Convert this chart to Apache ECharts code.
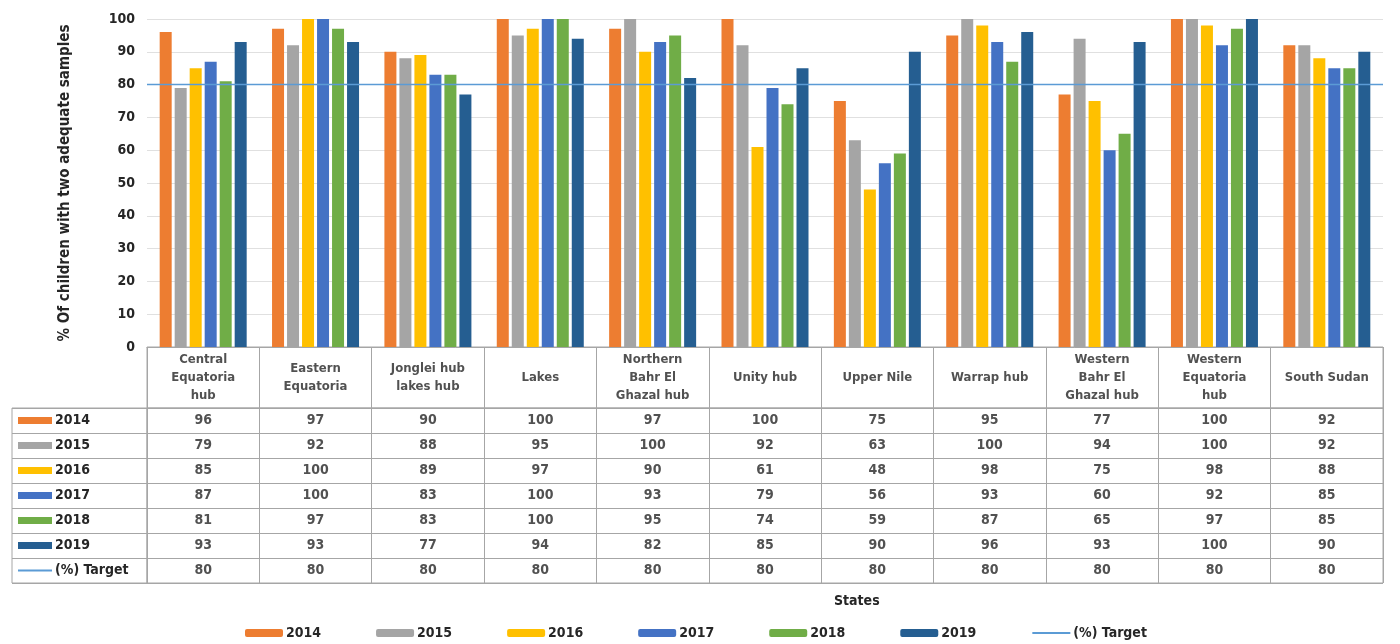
<!DOCTYPE html>
<html>
<head>
<meta charset="utf-8">
<script src="https://cdn.jsdelivr.net/npm/echarts@6/dist/echarts.min.js"></script>
<style>html,body{margin:0;padding:0;background:#fff}#c{width:1400px;height:644px}</style>
</head>
<body>
<div id="c"></div>
<script>
const categories = ['Central\nEquatoria\nhub','Eastern\nEquatoria','Jonglei hub\nlakes hub','Lakes','Northern\nBahr El\nGhazal hub','Unity hub','Upper Nile','Warrap hub','Western\nBahr El\nGhazal hub','Western\nEquatoria\nhub','South Sudan'];
const years = ['2014','2015','2016','2017','2018','2019'];
const v2014 = [96,97,90,100,97,100,75,95,77,100,92];
const v2015 = [79,92,88,95,100,92,63,100,94,100,92];
const v2016 = [85,100,89,97,90,61,48,98,75,98,88];
const v2017 = [87,100,83,100,93,79,56,93,60,92,85];
const v2018 = [81,97,83,100,95,74,59,87,65,97,85];
const v2019 = [93,93,77,94,82,85,90,96,93,100,90];
const target = [80,80,80,80,80,80,80,80,80,80,80];
const targetName = '(%) Target';
const yTicks = [0,10,20,30,40,50,60,70,80,90,100];

const yearValues = [v2014,v2015,v2016,v2017,v2018,v2019];
const colors = ['#ED7D31','#A5A5A5','#FFC000','#4472C4','#70AD47','#255E91'];
const targetColor = '#5B9BD5';
const rowNames = years.concat([targetName]);
const rowValues = yearValues.concat([target]);
const FONT = "'DejaVu Sans Condensed','DejaVu Sans',sans-serif";
const TXT = '#262626';
const BORDER = '#a6a6a6';

const cellData = [];
rowValues.forEach((arr, r) => arr.forEach((v, c) => cellData.push([c, r, v])));

const rich = {t:{fontFamily:FONT,fontWeight:'bold',fontSize:14,color:TXT,padding:[0,0,0,3]}};
colors.forEach((col,i)=>{ rich['s'+i] = {backgroundColor:col,width:34,height:7}; });
rich['s6'] = {backgroundColor:targetColor,width:34,height:2};

const chart = echarts.init(document.getElementById('c'), null, {renderer:'canvas'});
const option = {
  animation:false,
  backgroundColor:'#fff',
  textStyle:{fontFamily:FONT},
  grid:[
    {left:147,right:17,top:19,height:328},
    {left:147,right:17,top:347,height:61,show:true,borderColor:BORDER,borderWidth:1},
    {left:147,right:17,top:408,height:175,show:true,borderColor:BORDER,borderWidth:1},
    {left:12,width:135,top:408,height:175,show:true,borderColor:BORDER,borderWidth:1}
  ],
  xAxis:[
    {gridIndex:0,type:'category',data:categories,axisLabel:{show:false},axisTick:{show:false},axisLine:{show:true,lineStyle:{color:BORDER}}},
    {gridIndex:0,type:'category',data:categories,boundaryGap:false,show:false},
    {gridIndex:1,type:'category',data:categories,axisLabel:{show:false},axisTick:{show:false},axisLine:{show:false},splitLine:{show:true,interval:0,lineStyle:{color:BORDER}}},
    {gridIndex:2,type:'category',data:categories,axisLabel:{show:false},axisTick:{show:false},axisLine:{show:false},splitLine:{show:true,interval:0,lineStyle:{color:BORDER}}},
    {gridIndex:3,type:'category',data:[''],axisLabel:{show:false},axisTick:{show:false},axisLine:{show:false}}
  ],
  yAxis:[
    {gridIndex:0,type:'value',min:0,max:100,interval:10,
      name:'% Of children with two adequate samples',nameLocation:'middle',nameGap:74,nameRotate:90,
      nameTextStyle:{fontFamily:FONT,fontWeight:'bold',fontSize:15,color:TXT},
      axisLabel:{fontFamily:FONT,fontWeight:'bold',fontSize:14,color:TXT,margin:12,
        formatter:(v)=> yTicks.indexOf(v)>=0 ? String(v) : ''},
      axisLine:{show:false},axisTick:{show:false},
      splitLine:{show:true,lineStyle:{color:'#e0e0e0'}}},
    {gridIndex:1,type:'category',data:[''],show:false},
    {gridIndex:2,type:'category',data:rowNames,inverse:true,axisLabel:{show:false},axisTick:{show:false},axisLine:{show:false},splitLine:{show:true,interval:0,lineStyle:{color:BORDER}}},
    {gridIndex:3,type:'category',data:rowNames,inverse:true,axisTick:{show:false},axisLine:{show:false},
      splitLine:{show:true,interval:0,lineStyle:{color:BORDER}},
      axisLabel:{inside:true,interval:0,margin:6,align:'left',rich:rich,
        formatter:(v,i)=>'{s'+i+'|}{t|'+v+'}'}}
  ],
  legend:{
    data:rowNames,left:240,top:621,itemWidth:38,itemHeight:8,itemGap:55,
    textStyle:{fontFamily:FONT,fontWeight:'bold',fontSize:14,color:TXT,padding:[0,0,0,-2]}
  },
  graphic:[
    {type:'text',left:834,top:594,style:{text:'States',font:"bold 14px "+FONT,fill:TXT}}
  ],
  series:[]
};
years.forEach((y,i)=>{
  option.series.push({
    name:y,type:'bar',xAxisIndex:0,yAxisIndex:0,data:yearValues[i],
    barWidth:12,barGap:'25%',itemStyle:{color:colors[i]},legendIcon:'rect'
  });
});
option.series.push({
  name:targetName,type:'line',xAxisIndex:1,yAxisIndex:0,data:target,
  symbol:'none',lineStyle:{color:targetColor,width:1.5},itemStyle:{color:'rgba(0,0,0,0)',borderWidth:0},z:5
});
option.series.push({
  name:'header',type:'scatter',xAxisIndex:2,yAxisIndex:1,symbolSize:0,
  data:categories.map((c,i)=>[i,0]),silent:true,
  label:{show:true,position:'inside',formatter:(p)=>categories[p.dataIndex],
    fontFamily:FONT,fontWeight:'bold',fontSize:13,lineHeight:18,color:TXT}
});
option.series.push({
  name:'cells',type:'scatter',xAxisIndex:3,yAxisIndex:2,symbolSize:0,
  data:cellData,silent:true,
  label:{show:true,position:'inside',formatter:(p)=>String(p.value[2]),
    fontFamily:FONT,fontWeight:'bold',fontSize:14,color:TXT}
});
chart.setOption(option);
</script>
</body>
</html>
